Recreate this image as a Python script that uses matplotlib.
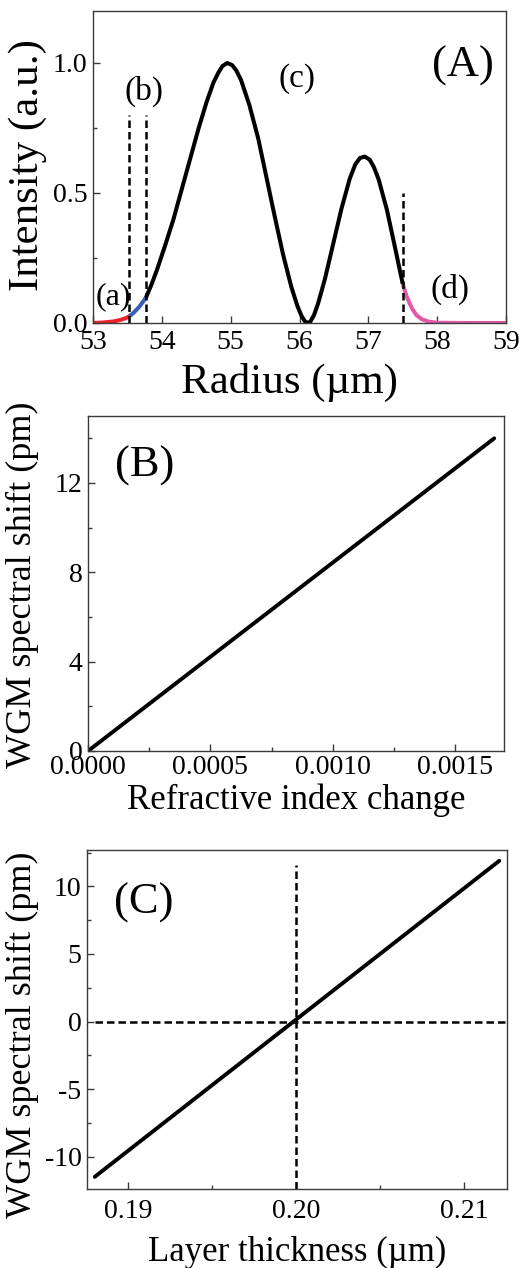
import numpy as np
import matplotlib.pyplot as plt
from matplotlib.ticker import MultipleLocator

plt.rcParams['font.family'] = ['Liberation Serif', 'DejaVu Serif']

# (A) radial intensity profile of the mode
radius = np.array([53.00, 53.15, 53.30, 53.40, 53.47, 53.53, 53.60, 53.68,
                   53.77, 53.85, 53.93, 54.05, 54.17, 54.29, 54.41, 54.53,
                   54.65, 54.75, 54.82, 54.88, 54.95, 55.02, 55.08, 55.15,
                   55.27, 55.40, 55.52, 55.64, 55.76, 55.88, 55.97, 56.03,
                   56.08, 56.12, 56.16, 56.21, 56.27, 56.37, 56.49, 56.61,
                   56.73, 56.81, 56.88, 56.95, 57.02, 57.08, 57.15, 57.27,
                   57.38, 57.50, 57.56, 57.63, 57.70, 57.78, 57.88, 58.00,
                   58.50, 59.00])
intensity = np.array([0.000, 0.002, 0.006, 0.012, 0.018, 0.026, 0.042, 0.065,
                      0.098, 0.148, 0.205, 0.300, 0.400, 0.515, 0.630, 0.745,
                      0.850, 0.925, 0.962, 0.988, 1.000, 0.992, 0.972, 0.935,
                      0.840, 0.710, 0.560, 0.410, 0.265, 0.140, 0.065, 0.027,
                      0.006, 0.000, 0.006, 0.030, 0.075, 0.170, 0.305, 0.440,
                      0.555, 0.610, 0.635, 0.640, 0.628, 0.600, 0.552, 0.435,
                      0.300, 0.150, 0.100, 0.058, 0.030, 0.014, 0.005, 0.001,
                      0.000, 0.000])
# region boundaries (a)|(b)|(c)|(d)
bounds = [53.0, 53.53, 53.77, 57.50, 59.0]
seg_colors = ['#e8232a', '#3c5fb4', 'black', '#e15aa8']
b_marks = [53.53, 53.77]
b_top = 0.80
d_mark = 57.50
d_top = 0.50

# (B) shift vs refractive index change
dn = [0.0, 0.00166]
shift_b = [0.0, 14.0]

# (C) shift vs layer thickness
thick = [0.1880, 0.2121]
shift_c = [-11.5, 11.9]
t0 = 0.200
t0_top = 11.6

fig = plt.figure(figsize=(5.19, 12.68), dpi=100)
W, H = 519, 1268
DASH = (3.0, 1.6)


def add_ax(l, r, t, b):
    return fig.add_axes([l / W, 1 - b / H, (r - l) / W, (b - t) / H])


def style(ax):
    for s in ax.spines.values():
        s.set_color('#3a3a3a')
        s.set_linewidth(1.0)
    ax.tick_params(which='both', direction='in', colors='#3a3a3a',
                   labelcolor='black', labelsize=20, width=1.0)
    ax.tick_params(which='major', length=5, pad=4)
    ax.tick_params(which='minor', length=3)
    ax.tick_params(axis='x', pad=3)


# ---- panel A ----
axA = add_ax(93, 506, 11, 323)
for lo, hi, c in zip(bounds[:-1], bounds[1:], seg_colors):
    m = (radius >= lo - 1e-9) & (radius <= hi + 1e-9)
    axA.plot(radius[m], intensity[m], color=c, lw=2.9,
             solid_capstyle='butt', solid_joinstyle='round')
for xb in b_marks:
    axA.plot([xb, xb], [0, b_top], color='black', lw=1.8, dashes=DASH)
axA.plot([d_mark, d_mark], [0, d_top], color='black', lw=1.8, dashes=DASH)
axA.set_xlim(53, 59)
axA.set_ylim(0, 1.2)
axA.xaxis.set_major_locator(MultipleLocator(1))
axA.yaxis.set_major_locator(MultipleLocator(0.5))
axA.yaxis.set_minor_locator(MultipleLocator(0.25))
axA.yaxis.set_major_formatter(lambda v, p: f'{v:.1f}')
style(axA)
axA.tick_params(axis='x', pad=5)
axA.text(53.30, 0.10, '(a)', fontsize=23, ha='center', va='center')
axA.text(53.74, 0.89, '(b)', fontsize=24, ha='center', va='center')
axA.text(55.96, 0.94, '(c)', fontsize=24, ha='center', va='center')
axA.text(58.19, 0.13, '(d)', fontsize=24, ha='center', va='center')
axA.text(58.38, 0.99, '(A)', fontsize=32, ha='center', va='center')
fig.text(28 / W, 1 - 165 / H, 'Intensity (a.u.)', fontsize=31,
         rotation=90, ha='center', va='center')
fig.text(289 / W, 1 - 382 / H, 'Radius (µm)', fontsize=31,
         ha='center', va='center')

# ---- panel B ----
axB = add_ax(88, 504, 416, 751)
axB.plot(dn, shift_b, color='black', lw=2.8, solid_capstyle='round')
axB.set_xlim(0, 0.0017)
axB.set_ylim(0, 15)
axB.xaxis.set_major_locator(MultipleLocator(0.0005))
axB.xaxis.set_minor_locator(MultipleLocator(0.00025))
axB.yaxis.set_major_locator(MultipleLocator(4))
axB.yaxis.set_minor_locator(MultipleLocator(2))
axB.xaxis.set_major_formatter(lambda v, p: f'{v:.4f}')
style(axB)
axB.text(0.00023, 12.75, '(B)', fontsize=32, ha='center', va='center')
fig.text(22 / W, 1 - 585 / H, 'WGM spectral shift (pm)', fontsize=26,
         rotation=90, ha='center', va='center')
fig.text(296 / W, 1 - 800 / H, 'Refractive index change', fontsize=25,
         ha='center', va='center')

# ---- panel C ----
axC = add_ax(87, 507, 850, 1189)
axC.plot(thick, shift_c, color='black', lw=2.8, solid_capstyle='round')
axC.plot([thick[0], 0.2126], [0, 0], color='black', lw=1.8, dashes=DASH)
axC.plot([t0, t0], [-12.4, t0_top], color='black', lw=1.8, dashes=DASH)
axC.set_xlim(0.18754, 0.21256)
axC.set_ylim(-12.4, 12.7)
axC.xaxis.set_major_locator(MultipleLocator(0.01))
axC.xaxis.set_minor_locator(MultipleLocator(0.005))
axC.yaxis.set_major_locator(MultipleLocator(5))
axC.yaxis.set_minor_locator(MultipleLocator(2.5))
axC.xaxis.set_major_formatter(lambda v, p: f'{v:.2f}')
axC.yaxis.set_major_formatter(lambda v, p: f'{v:.0f}')
style(axC)
axC.tick_params(axis='x', pad=7)
axC.text(0.1909, 8.8, '(C)', fontsize=32, ha='center', va='center')
fig.text(22 / W, 1 - 1035 / H, 'WGM spectral shift (pm)', fontsize=26,
         rotation=90, ha='center', va='center')
fig.text(297 / W, 1 - 1252 / H, 'Layer thickness (µm)', fontsize=25,
         ha='center', va='center')

fig.savefig('out.png', dpi=100)
